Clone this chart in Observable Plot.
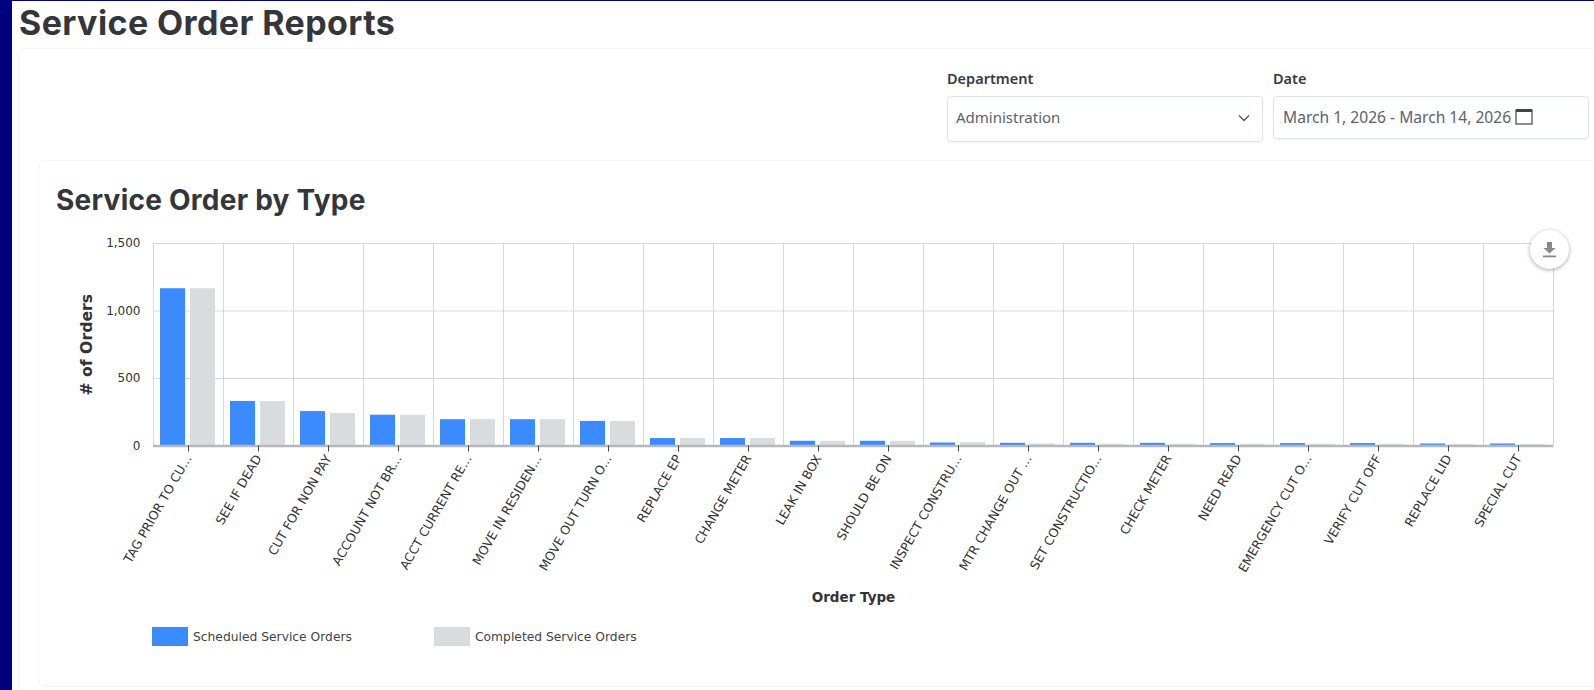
<!DOCTYPE html>
<html>
<head>
<meta charset="utf-8">
<script src="https://cdn.jsdelivr.net/npm/d3@7"></script>
<script src="https://cdn.jsdelivr.net/npm/@observablehq/plot@0.6"></script>
<style>
  html, body { margin: 0; padding: 0; width: 1594px; height: 690px; overflow: hidden; background: #fff; font-family: "Open Sans", sans-serif; }
  .abs { position: absolute; box-sizing: border-box; }
  #strip { left: 0; top: 0; width: 12px; height: 690px; background: #00007f; }
  #topstrip { left: 0; top: 0; width: 1594px; height: 1px; background: #00007f; }
  h1, h2 { margin: 0; font-family: "Inter", sans-serif; color: #33363a; white-space: nowrap; }
  h1 { left: 19px; top: 4px; font-size: 34px; line-height: 38px; font-weight: 700; letter-spacing: 0.4px; }
  h2 { left: 56px; top: 183px; font-size: 28px; line-height: 34px; font-weight: 700; letter-spacing: 0.25px; }
  .card { border: 1px solid #f3f5f5; border-radius: 8px; background: #fff; }
  #outer { left: 18px; top: 48px; width: 1600px; height: 660px; }
  #inner { left: 38px; top: 160px; width: 1600px; height: 527px; }
  .field-label { font-family: "Noto Sans", sans-serif; font-size: 14.5px; font-weight: 600; color: #343a40; white-space: nowrap; }
  .box { border: 1px solid #dfe4ea; border-radius: 4px; font-family: "Noto Sans", sans-serif; font-size: 15px; color: #596270; white-space: nowrap; box-shadow: 0 1px 2px rgba(0,0,0,.05); }
  #chart { left: 60px; top: 225px; }
  #chart svg { display: block; overflow: visible; }
  #chart text { fill: #333; }
  g[aria-label="y-axis label"] text, g[aria-label="fx-axis label"] text { font-weight: 700; fill: #111; }
  g[aria-label="y-axis label"] text { font-size: 15.7px; }
  g[aria-label="fx-axis label"] text { font-size: 13.5px; }
  .legend-swatch { width: 36px; height: 19px; top: 627px; }
  .legend-text { top: 630px; font-family: "DejaVu Sans", sans-serif; font-size: 12.3px; color: #444; white-space: nowrap; }
  #download { left: 1530px; top: 230px; width: 39px; height: 39px; border-radius: 50%; background: #fff; box-shadow: 0 1px 4px rgba(0,0,0,.35); }
</style>
</head>
<body>
<div id="outer" class="abs card"></div>
<div id="inner" class="abs card"></div>
<div id="strip" class="abs"></div>
<div id="topstrip" class="abs"></div>
<h1 class="abs">Service Order Reports</h1>
<h2 class="abs">Service Order by Type</h2>

<div class="abs field-label" style="left:947px;top:68px">Department</div>
<div class="abs field-label" style="left:1273px;top:68px">Date</div>
<div class="abs box" style="left:947px;top:96px;width:316px;height:46px;padding:10px 8px">Administration
  <svg class="abs" style="left:290px;top:17px" width="12" height="8" viewBox="0 0 12 8"><path d="M1 1.5 6 6.5 11 1.5" fill="none" stroke="#555" stroke-width="1.4"/></svg>
</div>
<div class="abs box" style="left:1273px;top:96px;width:316px;height:43px;padding:9px 9px;font-size:15.6px">March 1, 2026 - March 14, 2026
  <svg class="abs" style="left:241px;top:11px" width="18" height="17" viewBox="0 0 18 17"><rect x="1" y="2" width="16" height="14" fill="none" stroke="#444" stroke-width="1.2"/><rect x="1" y="1" width="16" height="3" fill="#444"/></svg>
</div>

<div id="chart" class="abs"></div>

<div id="download" class="abs">
  <svg class="abs" style="left:12px;top:11px" width="15" height="17" viewBox="0 0 15 17"><path d="M5 1h5v6h3.500L7.500 12.500 1.500 7H5z" fill="#888"/><rect x="1" y="14.500" width="13" height="1.800" fill="#888"/></svg>
</div>

<div class="abs legend-swatch" style="left:152px;background:#3b8bff"></div>
<div class="abs legend-text" style="left:193px">Scheduled Service Orders</div>
<div class="abs legend-swatch" style="left:434px;background:#d8dcdf"></div>
<div class="abs legend-text" style="left:475px">Completed Service Orders</div>

<script>
// Service order counts per order type, longest bars first.
const orderTypes = [
  "TAG PRIOR TO CU...", "SEE IF DEAD", "CUT FOR NON PAY", "ACCOUNT NOT BR...", "ACCT CURRENT RE...",
  "MOVE IN RESIDEN...", "MOVE OUT TURN O...", "REPLACE EP", "CHANGE METER", "LEAK IN BOX",
  "SHOULD BE ON", "INSPECT CONSTRU...", "MTR CHANGE OUT ...", "SET CONSTRUCTIO...", "CHECK METER",
  "NEED READ", "EMERGENCY CUT O...", "VERIFY CUT OFF", "REPLACE LID", "SPECIAL CUT"
];
const scheduled = [1165, 330, 255, 228, 195, 195, 182, 55, 55, 35, 35, 22, 20, 20, 20, 18, 18, 18, 15, 15];
const completed = [1165, 330, 240, 228, 195, 195, 182, 55, 55, 35, 35, 25, 15, 12, 12, 12, 12, 12, 10, 10];
const seriesNames = ["Scheduled Service Orders", "Completed Service Orders"];
const seriesColors = ["#3b8bff", "#d8dcdf"];
const yTicks = [0, 500, 1000, 1500];

const rows = orderTypes.flatMap((type, i) => [
  {type, series: seriesNames[0], value: scheduled[i]},
  {type, series: seriesNames[1], value: completed[i]}
]);

const gridColor = "#d6d9dc";

const chart = Plot.plot({
  width: 1534,
  height: 390,
  marginLeft: 89,
  marginRight: 36.5,
  marginTop: 18,
  marginBottom: 169.5,
  style: {fontFamily: "'DejaVu Sans', sans-serif", fontSize: "12px", background: "transparent"},
  fx: {domain: orderTypes, padding: 0},
  x: {domain: seriesNames, paddingInner: 0.16, paddingOuter: 0.22, axis: null},
  y: {domain: [0, 1500]},
  color: {domain: seriesNames, range: seriesColors},
  marks: [
    Plot.gridY(yTicks, {stroke: gridColor, strokeOpacity: 1}),
    // Vertical grid lines sit on the category boundaries, so each facet draws its own edge.
    Plot.frame({anchor: "right", stroke: gridColor}),
    Plot.frame({anchor: "left", stroke: gridColor}),
    Plot.frame({anchor: "top", stroke: gridColor}),
    Plot.barY(rows, {fx: "type", x: "series", y: "value", fill: "series"}),
    Plot.ruleY([0], {stroke: "#b4b8bb", strokeWidth: 2.5}),
    Plot.axisY(yTicks, {
      label: "# of Orders", labelAnchor: "center", labelArrow: "none", labelOffset: 73,
      tickSize: 0, tickPadding: 13, tickFormat: d3.format(","), fontSize: 12
    }),
    Plot.axisFx({
      anchor: "bottom",
      label: "Order Type", labelAnchor: "center", labelArrow: "none", labelOffset: 156,
      tickSize: 6, tickRotate: -60, tickPadding: 4, stroke: "#444", fontSize: 12.5
    })
  ]
});

document.getElementById("chart").append(chart);
</script>
</body>
</html>
